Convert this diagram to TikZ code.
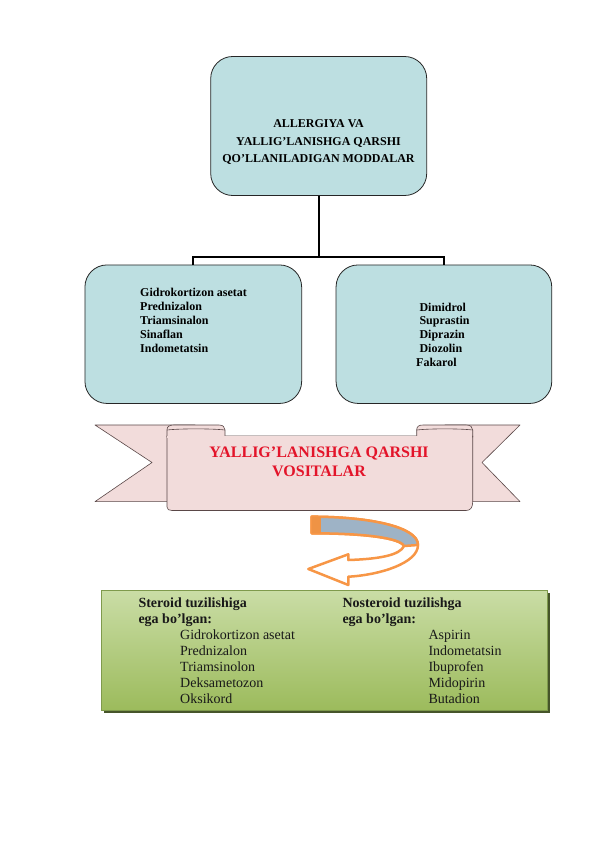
\documentclass[tikz,border=0pt]{standalone}
\usepackage{fontspec}
\setmainfont{Liberation Serif}
\definecolor{boxblue}{HTML}{BDDFE1}
\definecolor{banpink}{HTML}{F2DCDB}
\definecolor{banline}{HTML}{5A4848}
\definecolor{banred}{HTML}{E3142A}
\definecolor{arrorange}{HTML}{F79646}
\definecolor{arrgray}{HTML}{9EB3C6}
\definecolor{gtop}{HTML}{CADDA6}
\definecolor{gbot}{HTML}{9CBB5C}
\definecolor{gedge}{HTML}{7F9A4C}
\begin{document}
\begin{tikzpicture}[x=1pt,y=-1pt,
  box/.style={draw=black!85, line width=0.8pt, fill=boxblue, rounded corners=22pt, inner sep=0pt},
  link/.style={draw=black, line width=1.8pt},
  ttl/.style={font=\bfseries\fontsize{12}{17.7}\selectfont, align=center, inner sep=0pt, anchor=north},
  lst/.style={font=\bfseries\fontsize{12}{13.8}\selectfont, align=left, inner sep=0pt, anchor=north west},
  ban/.style={fill=banpink, draw=banline, line width=0.6pt, line join=round},
  bantext/.style={font=\bfseries\fontsize{16}{19.6}\selectfont, text=banred, align=center, inner sep=0pt, anchor=north},
  arr/.style={draw=arrorange, line width=2.5pt, line join=round},
  gbox/.style={draw=gedge, line width=0.6pt, top color=gtop, bottom color=gbot, inner sep=0pt},
  glist/.style={font=\fontsize{14}{16.1}\selectfont, align=left, inner sep=0pt, anchor=north west, text=black!90}
]
\useasboundingbox (0,0) rectangle (596,842);

% boxes
\node[box, minimum width=216pt, minimum height=139pt] (top) at (318.7,126) {};
\node[box, minimum width=216.7pt, minimum height=138.5pt] (L) at (193.3,334.2) {};
\node[box, minimum width=215.7pt, minimum height=138.5pt] (R) at (443.9,334.2) {};

% connectors
\coordinate (bar) at (0,257);
\draw[link] (top.south) -- (top.south |- bar);
\draw[link] (L.north) -- (L.north |- bar) -- (R.north |- bar) -- (R.north);

% box texts
\node[ttl] (toptext) at (318.5,119.2) {ALLERGIYA VA\\YALLIG’LANISHGA QARSHI\\QO’LLANILADIGAN MODDALAR};
\node[lst] (ltext) at (140,288.3) {Gidrokortizon asetat\\Prednizalon\\Triamsinalon\\Sinaflan\\Indometatsin};
\node[lst] (rtext) at (416,302.6) {\hspace*{3.3pt}Dimidrol\\\hspace*{3.3pt}Suprastin\\\hspace*{3.3pt}Diprazin\\\hspace*{3.3pt}Diozolin\\Fakarol};

% banner
\filldraw[ban] (95,425) -- (195,425) -- (195,501.6) -- (95,501.6) -- (152,462.5) -- cycle;
\filldraw[ban] (520,425) -- (445,425) -- (445,501.6) -- (520,501.6) -- (482,462.5) -- cycle;
\filldraw[ban] (167,436) -- (167,507) .. controls (167,509.5) and (169,510.5) .. (172,510.5)
  -- (466,510.5) .. controls (471,510.5) and (472.7,507) .. (472.7,501.6) -- (472.7,436) -- cycle;
\filldraw[ban] (167,437) -- (167,430) .. controls (167,426.5) and (169,425) .. (174,425)
  -- (219,425) .. controls (223,425) and (225,427) .. (225,430) -- (225,437) -- cycle;
\draw[banline, line width=0.6pt] (167,430) .. controls (180,428.5) and (212,428.5) .. (225,430);
\filldraw[ban] (416.7,437) -- (416.7,430) .. controls (416.7,426.5) and (418.7,425) .. (423,425)
  -- (466,425) .. controls (470.5,425) and (472.7,427) .. (472.7,430) -- (472.7,437) -- cycle;
\draw[banline, line width=0.6pt] (416.7,430) .. controls (430,428.5) and (460,428.5) .. (472.7,430);
\fill[banpink] (167.4,436.4) rectangle (472.3,438);
\node[bantext] (bantitle) at (319,446.2) {YALLIG’LANISHGA QARSHI\\VOSITALAR};

% curved arrow
\coordinate (a1) at (311.7,516.7);
\coordinate (a2) at (311.7,533.3);
\filldraw[arr, fill=white] (a1) .. controls (370,516.7) and (418,527) .. (418,545)
  .. controls (418,563) and (380,575) .. (348.3,576.7) -- (348.3,585) -- (308.3,569)
  -- (348.3,554.3) -- (348.3,560) .. controls (380,559) and (400,555) .. (404,546)
  .. controls (400,538) and (365,533.3) .. (a2) -- cycle;
\filldraw[arr, fill=arrgray] (a1) .. controls (370,516.7) and (418,527) .. (418,545)
  -- (404,546) .. controls (400,538) and (365,533.3) .. (a2) -- cycle;
\fill[arrorange!85!brown] (a1) rectangle (320.7,533.3);

% green box
\fill[black!45!gedge] (103.5,592.5) rectangle (550.2,712.5);
\node[gbox, minimum width=446.7pt, minimum height=120pt] (g) at (324.4,650) {};
\node[glist] (c1) at (138.3,597.4) {\textbf{Steroid tuzilishiga}\\\textbf{ega bo’lgan:}\\
  \hspace*{41.7pt}Gidrokortizon asetat\\\hspace*{41.7pt}Prednizalon\\\hspace*{41.7pt}Triamsinolon\\
  \hspace*{41.7pt}Deksametozon\\\hspace*{41.7pt}Oksikord};
\node[glist] (c2) at (342.3,597.4) {\textbf{Nosteroid tuzilishga}\\\textbf{ega bo’lgan:}\\
  \hspace*{86pt}Aspirin\\\hspace*{86pt}Indometatsin\\\hspace*{86pt}Ibuprofen\\
  \hspace*{86pt}Midopirin\\\hspace*{86pt}Butadion};
\end{tikzpicture}
\end{document}
